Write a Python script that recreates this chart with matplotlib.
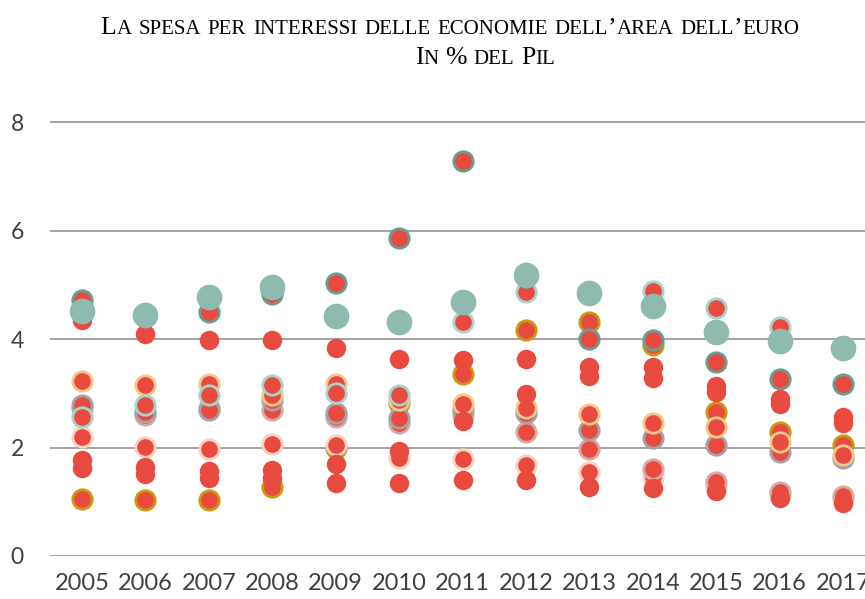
import matplotlib
matplotlib.use("Agg")
import matplotlib.pyplot as plt
from matplotlib.offsetbox import TextArea, HPacker, AnnotationBbox

anni = [2005, 2006, 2007, 2008, 2009, 2010, 2011, 2012, 2013, 2014, 2015, 2016, 2017]

# spesa per interessi, % del Pil
italia = [4.52, 4.45, 4.78, 4.96, 4.42, 4.32, 4.69, 5.18, 4.85, 4.61, 4.13, 3.97, 3.83]
grecia = [4.72, 4.47, 4.50, 4.84, 5.04, 5.87, 7.29, 5.15, 4.01, 3.99, 3.58, 3.26, 3.18]
portogallo = [2.57, 2.78, 2.97, 3.15, 3.00, 2.97, 4.32, 4.87, 4.85, 4.89, 4.58, 4.23, 3.83]
irlanda = [1.05, 1.03, 1.03, 1.28, 2.00, 2.83, 3.35, 4.17, 4.32, 3.89, 2.66, 2.29, 2.05]
austria = [3.23, 3.15, 3.17, 2.97, 3.18, 2.88, 2.80, 2.72, 2.62, 2.45, 2.38, 2.11, 1.86]
francia = [2.78, 2.65, 2.69, 2.88, 2.63, 2.54, 2.69, 2.64, 2.32, 2.17, 2.05, 1.92, 1.80]
germania = [2.72, 2.60, 2.72, 2.69, 2.57, 2.45, 2.60, 2.29, 1.97, 1.60, 1.37, 1.18, 1.10]
olanda = [2.20, 2.01, 1.97, 2.06, 2.05, 1.80, 1.78, 1.68, 1.54, 1.45, 1.28, 1.12, 1.05]
belgio = [4.35, 4.09, 3.99, 3.98, 3.84, 3.63, 3.61, 3.63, 3.32, 3.28, 3.13, 2.90, 2.57]
spagna = [1.77, 1.65, 1.57, 1.59, 1.70, 1.94, 2.48, 2.99, 3.49, 3.49, 3.03, 2.80, 2.45]
finlandia = [1.62, 1.51, 1.43, 1.44, 1.34, 1.34, 1.40, 1.40, 1.28, 1.25, 1.20, 1.07, 0.98]

ROSSO = "#E84A40"
TEAL = "#8EBAAF"


def maiuscoletto(testo, grande, piccolo):
    # finto maiuscoletto: minuscole in maiuscolo piu' piccolo
    parole = []
    for parola in testo.split(" "):
        pezzi = []
        corrente, piccola = "", None
        for c in parola:
            p = c.islower()
            if piccola is not None and p != piccola:
                pezzi.append((corrente, piccola))
                corrente = ""
            corrente += c.upper()
            piccola = p
        pezzi.append((corrente, piccola))
        figli = [TextArea(t, textprops=dict(fontsize=piccolo if p else grande,
                                             family="Liberation Serif", color="black"))
                 for t, p in pezzi]
        parole.append(HPacker(children=figli, sep=0, pad=0, align="baseline"))
    return HPacker(children=parole, sep=5, pad=0, align="baseline")


fig = plt.figure(figsize=(8.65, 5.99), dpi=100)
ax = fig.add_axes([50.3 / 865, 43 / 599, 824.5 / 865, 461 / 599])

serie_bordate = [
    (irlanda, "#C99A12"),
    (olanda, "#F8D3C4"),
    (germania, "#D6ABA4"),
    (francia, "#A3A3AB"),
    (austria, "#F0C98A"),
    (portogallo, "#A8D3CA"),
    (grecia, "#6A9D91"),
]
for valori, bordo in serie_bordate:
    ax.plot(anni, valori, "o", ls="none", ms=14, mfc=ROSSO, mec=bordo, mew=2.0, zorder=3)

for valori in [belgio, spagna, finlandia]:
    ax.plot(anni, valori, "o", ls="none", ms=14, mfc=ROSSO, mew=0, zorder=3)

ax.plot(anni, italia, "o", ls="none", ms=18.5, mfc=TEAL, mew=0, zorder=4)

ax.set_xlim(2004.5, 2017.5)
ax.set_ylim(0, 8.5)
ax.set_yticks([0, 2, 4, 6, 8])
ax.set_xticks(anni)
ax.set_xticklabels([str(a) for a in anni])
ax.grid(axis="y", color="#A6A6A6", lw=1.5)
ax.set_axisbelow(True)
for s in ax.spines.values():
    s.set_visible(False)
ax.tick_params(axis="y", length=0, pad=19, labelsize=16.5, labelcolor="#404040")
ax.tick_params(axis="x", length=0, pad=12, labelsize=17, labelcolor="#404040")
for lab in ax.get_xticklabels() + ax.get_yticklabels():
    lab.set_fontfamily("Lato")

riga1 = maiuscoletto("La spesa per interessi delle economie dell’area dell’euro", 18.5, 15)
riga2 = maiuscoletto("In % del Pil", 18.5, 15)
fig.add_artist(AnnotationBbox(riga1, (450 / 865, 1 - 28 / 599), xycoords="figure fraction",
                              frameon=False, box_alignment=(0.5, 0.5)))
fig.add_artist(AnnotationBbox(riga2, (485 / 865, 1 - 58 / 599), xycoords="figure fraction",
                              frameon=False, box_alignment=(0.5, 0.5)))

fig.savefig("out.png", dpi=100)
